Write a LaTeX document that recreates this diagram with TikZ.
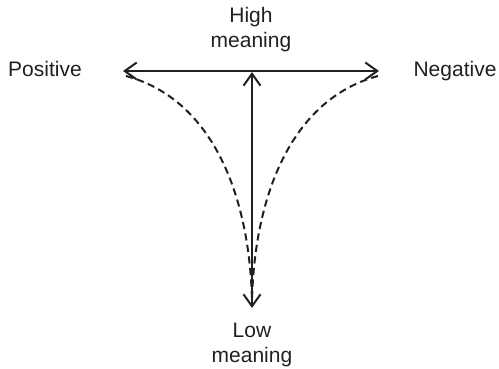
\documentclass[tikz,border=0pt]{standalone}
\usepackage{fontspec}
\setmainfont{Liberation Sans}
\usetikzlibrary{arrows.meta,positioning}
\definecolor{inkgray}{HTML}{231F20}

\begin{document}
\begin{tikzpicture}[
  x=0.5pt,y=-0.5pt,
  lab/.style={inner sep=0pt,align=center,text=inkgray,font={\fontsize{10.5}{12.5}\selectfont}},
  axis/.style={draw=inkgray,line width=1pt,{Straight Barb[length=6pt,width=8.5pt]}-{Straight Barb[length=6pt,width=8.5pt]}},
  trend/.style={draw=inkgray,line width=1pt,dash pattern=on 3.6pt off 2.2pt}
]
\useasboundingbox (0,0) rectangle (499,369);

% axis ends
\coordinate (pos) at (123,71);
\coordinate (neg) at (379,71);
\coordinate (high) at (252,72);
\coordinate (low) at (252,308);

% labels
\node[lab,anchor=base] (lpos) at (45,77) {Positive};
\node[lab,anchor=base] (lneg) at (455,77) {Negative};
\node[lab,anchor=north] (lhigh) at (251,7) {High\\meaning};
\node[lab,anchor=north] (llow) at (252,323) {Low\\meaning};

% axes
\draw[axis] (pos) -- (neg);
\draw[axis] (high) -- (low);

% dashed curves
\draw[trend] (126,76) .. controls (215,100) and (250,200) .. (252,302);
\draw[trend] (378,76) .. controls (289,100) and (254,200) .. (252,302);
\end{tikzpicture}
\end{document}
